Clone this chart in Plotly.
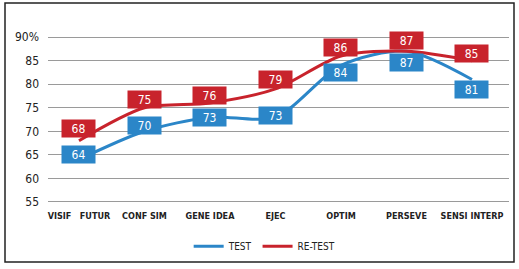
import plotly.graph_objects as go

# Chart data
categories = ["VISIF   FUTUR", "CONF SIM", "GENE IDEA", "EJEC", "OPTIM", "PERSEVE", "SENSI INTERP"]
test_values = [64, 70, 73, 73, 84, 87, 81]
retest_values = [68, 75, 76, 79, 86, 87, 85]
y_ticks = [55, 60, 65, 70, 75, 80, 85, 90]
y_tick_labels = ["55", "60", "65", "70", "75", "80", "85", "90%"]

# label offsets in pixels (blue labels sit on/below the line, red ones above)
test_shift = [5, 6, 0, 2, -7, -11, -10]
retest_shift = [12, 8, 8, 9, 8, 11, 7]

BLUE = "#2b86c8"
RED = "#c8232c"
FONT = "DejaVu Sans Condensed, Liberation Sans Narrow, sans-serif"

fig = go.Figure()
fig.add_trace(go.Scatter(
    x=categories, y=test_values, name="TEST", mode="lines",
    line=dict(color=BLUE, width=3, shape="spline", smoothing=0.8),
))
fig.add_trace(go.Scatter(
    x=categories, y=retest_values, name="RE-TEST", mode="lines",
    line=dict(color=RED, width=3, shape="spline", smoothing=0.8),
))

# value boxes
for cat, val, shift in zip(categories, test_values, test_shift):
    fig.add_annotation(x=cat, y=val, text=str(val), showarrow=False, yshift=shift,
                       bgcolor=BLUE, width=29, height=13, borderpad=2,
                       font=dict(color="white", size=12, family=FONT))
for cat, val, shift in zip(categories, retest_values, retest_shift):
    fig.add_annotation(x=cat, y=val, text=str(val), showarrow=False, yshift=shift,
                       bgcolor=RED, width=29, height=13, borderpad=2,
                       font=dict(color="white", size=12, family=FONT))

# outer frame (plot area is x 48..509 px, y 23..209 px)
fig.add_shape(type="rect", xref="paper", yref="paper",
              x0=(5 - 48) / 461, x1=(514 - 48) / 461,
              y0=(209 - 262) / 186, y1=(209 - 3) / 186,
              line=dict(color="#222222", width=1.5))

fig.update_layout(
    width=519, height=269,
    margin=dict(l=48, r=10, t=23, b=60, autoexpand=False),
    paper_bgcolor="white", plot_bgcolor="white",
    font=dict(family=FONT, color="#222222"),
    showlegend=True,
    legend=dict(orientation="h", x=0.47, xanchor="center", y=-0.2, yanchor="middle",
                font=dict(size=10, family=FONT)),
    xaxis=dict(range=[-0.473, 6.565], showgrid=False, showline=False, ticks="",
               tickfont=dict(size=9, family=FONT, weight="bold"), tickangle=0,
               automargin=False),
    yaxis=dict(range=[53.5, 93], tickvals=y_ticks, ticktext=y_tick_labels,
               showgrid=True, gridcolor="#9a9a9a", gridwidth=1, zeroline=False,
               showline=False, ticks="", ticklabelstandoff=8, automargin=False,
               tickfont=dict(size=12, family=FONT)),
)

# drop the page's default body margin so the figure sits at 0,0
fig.write_html("out.html", config={"displayModeBar": False},
               post_script="document.body.style.margin='0px';")
